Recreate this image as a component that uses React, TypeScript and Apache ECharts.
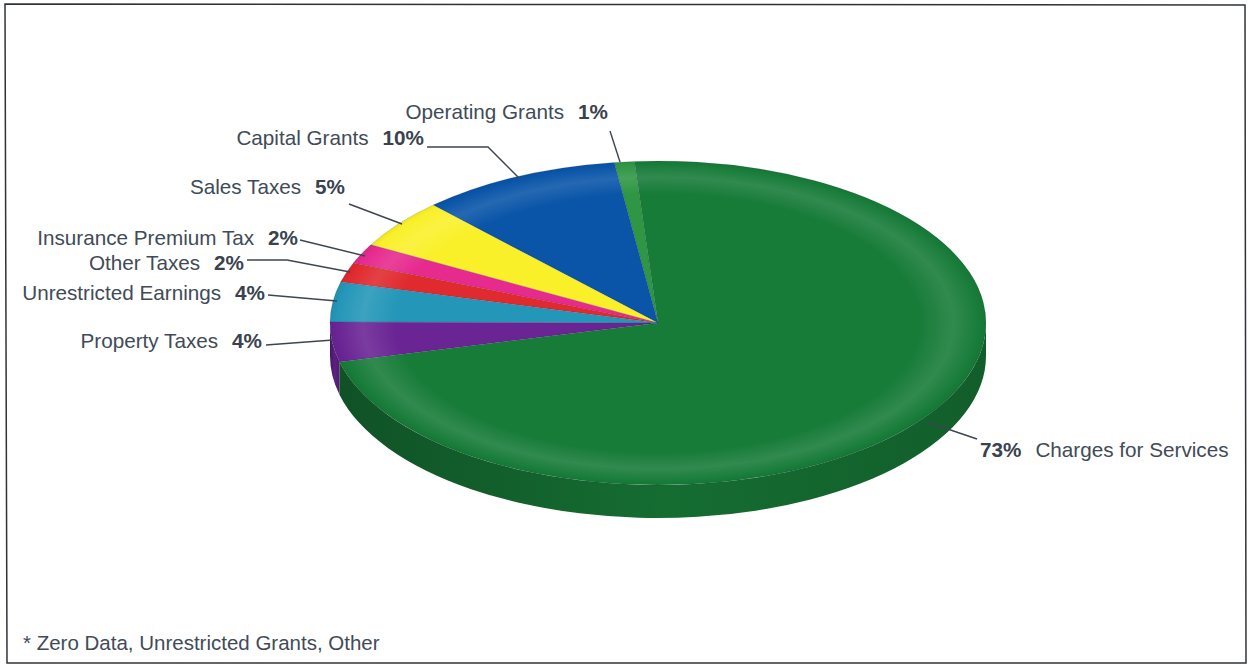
import React, { useEffect, useRef } from "react";
import * as echarts from "echarts";

const categories = [
  "Operating Grants",
  "Capital Grants",
  "Sales Taxes",
  "Insurance Premium Tax",
  "Other Taxes",
  "Unrestricted Earnings",
  "Property Taxes",
  "Charges for Services",
];
const shares = [1, 10, 5, 2, 2, 4, 4, 73];
const colors = ["#2f9644", "#0a55a8", "#f9f02a", "#e62a8e", "#e02a2e", "#2496b8", "#6a2494", "#187c39"];
const footnote = "* Zero Data, Unrestricted Grants, Other";

// Disc geometry: an ellipse seen from above, with a shallow rim below it.
const CX = 658;
const CY = 323;
const RX = 328;
const RY = 162;
const DEPTH = 33;
const START_DEG = 94.1;

const total = shares.reduce((a, b) => a + b, 0);
const degOf = (v: number) => (v / total) * 360;
const startOf = (i: number) => START_DEG + degOf(shares.slice(0, i).reduce((a, b) => a + b, 0));
const rad = (d: number) => (d * Math.PI) / 180;

const mix = (hex: string, target: number, k: number) => {
  const n = parseInt(hex.slice(1), 16);
  const ch = [(n >> 16) & 255, (n >> 8) & 255, n & 255].map((c) => Math.round(c + (target - c) * k));
  return `rgb(${ch[0]},${ch[1]},${ch[2]})`;
};

// Label placement: right edge and middle line of each label, plus its leader line.
const labelLayout = [
  { right: 608, y: 111, line: [[610, 131], [620, 162]] },
  { right: 424, y: 137, line: [[427, 147], [488, 147], [519, 178]] },
  { right: 345, y: 186, line: [[349, 204], [402, 224]] },
  { right: 298, y: 237, line: [[300, 240], [365, 256]] },
  { right: 244, y: 262, line: [[247, 260], [287, 260], [350, 272]] },
  { right: 265, y: 292, line: [[268, 295], [337, 301]] },
  { right: 262, y: 340, line: [[266, 345], [333, 340]] },
  { left: 980, y: 449, line: [[927, 422], [977, 439]] },
];

const FONT = '"Liberation Sans", Arial, sans-serif';
const TEXT_COLOR = "#414b57";
const LABEL_SIZE = 20.7;

const renderRim = (params: any, api: any) => {
  const i = params.dataIndex;
  const a = Math.max(startOf(i), 180);
  const b = Math.min(startOf(i) + degOf(api.value(0)), 360);
  if (b <= a) return { type: "group", children: [] };
  const px = (d: number) => CX + RX * Math.cos(rad(d));
  const py = (d: number) => CY - RY * Math.sin(rad(d));
  const pathData =
    `M${px(a)} ${py(a)} A${RX} ${RY} 0 0 0 ${px(b)} ${py(b)} ` +
    `L${px(b)} ${py(b) + DEPTH} A${RX} ${RY} 0 0 1 ${px(a)} ${py(a) + DEPTH} Z`;
  const base = colors[i];
  return {
    type: "path",
    shape: { pathData },
    style: {
      fill: {
        type: "linear",
        x: 0,
        y: 0,
        x2: 1,
        y2: 0,
        colorStops: [
          { offset: 0, color: mix(base, 0, 0.34) },
          { offset: 0.5, color: mix(base, 0, 0.12) },
          { offset: 1, color: mix(base, 0, 0.24) },
        ],
      },
    },
  };
};

const renderTop = (params: any, api: any) => {
  const i = params.dataIndex;
  const t1 = startOf(i);
  const t2 = t1 + degOf(api.value(0));
  const base = colors[i];
  return {
    type: "sector",
    x: CX,
    y: CY,
    scaleY: RY / RX,
    shape: { cx: 0, cy: 0, r0: 0, r: RX, startAngle: -rad(t1), endAngle: -rad(t2), clockwise: false },
    style: {
      fill: {
        type: "radial",
        x: 0,
        y: 0,
        r: RX,
        global: true,
        colorStops: [
          { offset: 0, color: base },
          { offset: 0.8, color: base },
          { offset: 0.9, color: mix(base, 255, 0.11) },
          { offset: 0.98, color: base },
          { offset: 1, color: mix(base, 0, 0.06) },
        ],
      },
      stroke: "rgba(20,30,70,0.25)",
      lineWidth: 0.6,
      strokeNoScale: true,
    },
  };
};

const labelGraphics = categories.flatMap((name, i) => {
  const cfg: any = labelLayout[i];
  const pct = `${shares[i]}%`;
  const leader = {
    type: "polyline",
    shape: { points: cfg.line },
    style: { stroke: "#3d4650", lineWidth: 1.4, fill: "none" },
    silent: true,
  };
  const rich = {
    n: { fontFamily: FONT, fontSize: LABEL_SIZE, fill: TEXT_COLOR },
    p: { fontFamily: FONT, fontSize: LABEL_SIZE, fontWeight: "bold", fill: "#39424e" },
    g: { width: 14, fontSize: LABEL_SIZE },
  };
  const text =
    cfg.right != null
      ? {
          type: "text",
          x: cfg.right,
          y: cfg.y,
          style: { text: `{n|${name}}{g| }{p|${pct}}`, rich, align: "right", verticalAlign: "middle" },
        }
      : {
          type: "text",
          x: cfg.left,
          y: cfg.y,
          style: { text: `{p|${pct}}{g| }{n|${name}}`, rich, align: "left", verticalAlign: "middle" },
        };
  return [leader, text];
});

export default function App() {
  const ref = useRef<HTMLDivElement>(null);
  useEffect(() => {
    const chart = echarts.init(ref.current!, null, { renderer: "svg" });
    chart.setOption({
      animation: false,
      backgroundColor: "#ffffff",
      series: [
        {
          type: "custom",
          coordinateSystem: "none",
          silent: true,
          data: shares.map((v) => [v]),
          renderItem: renderRim,
          z: 1,
        },
        {
          type: "custom",
          coordinateSystem: "none",
          silent: true,
          data: shares.map((v) => [v]),
          renderItem: renderTop,
          z: 2,
        },
      ],
      graphic: [
        {
          type: "polygon",
          shape: { points: [[5, 4], [1245, 5], [1246, 663], [7, 663]] },
          style: { fill: "none", stroke: "#2f3338", lineWidth: 1.5 },
          silent: true,
          z: 0,
        },
        ...labelGraphics.map((g) => ({ ...g, z: 5 })),
        {
          type: "text",
          x: 23,
          y: 642,
          z: 5,
          style: {
            text: footnote,
            fontFamily: FONT,
            fontSize: 20.5,
            fill: TEXT_COLOR,
            align: "left",
            verticalAlign: "middle",
          },
        },
      ],
    });
    return () => chart.dispose();
  }, []);
  return <div ref={ref} style={{ position: "absolute", left: 0, top: 0, width: 1249, height: 665 }} />;
}
